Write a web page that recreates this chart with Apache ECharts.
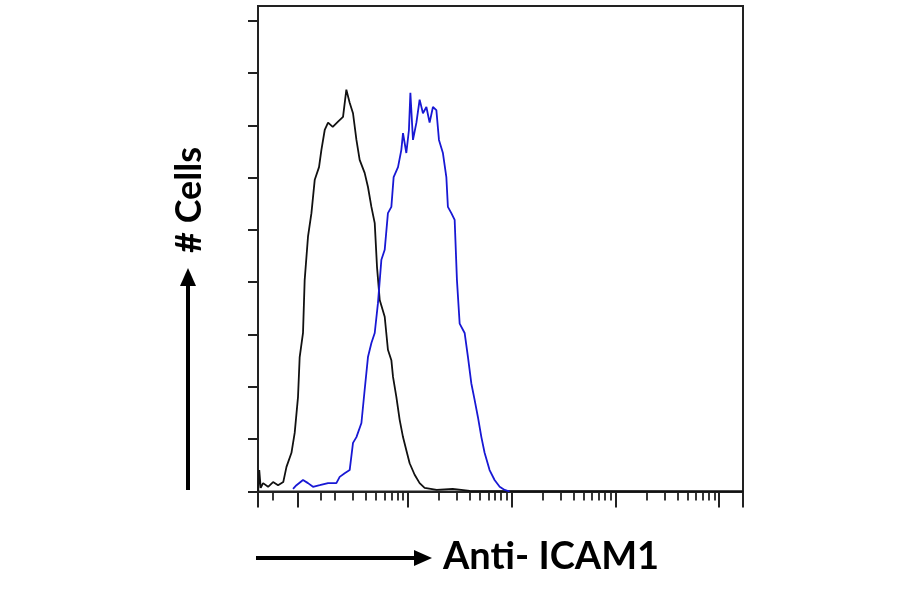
<!DOCTYPE html>
<html>
<head>
<meta charset="utf-8">
<script src="https://cdn.jsdelivr.net/npm/echarts@6/dist/echarts.min.js"></script>
<style>
    html, body { margin: 0; padding: 0; background: #fff; }
    #chart { width: 900px; height: 594px; }
</style>
</head>
<body>
<div id="chart"></div>
<script>
    // x in decades (log10 of fluorescence), y in cell counts
    var isotypeX = [0.565, 0.575, 0.589, 0.612, 0.660, 0.708, 0.756, 0.806, 0.837, 0.885, 0.916, 0.948, 0.964, 0.996,
        1.012, 1.044, 1.077, 1.109, 1.150, 1.173, 1.205, 1.237, 1.282, 1.333, 1.381, 1.413, 1.445, 1.477, 1.510,
        1.541, 1.589, 1.621, 1.654, 1.686, 1.708, 1.734, 1.782, 1.813, 1.846, 1.862, 1.894, 1.926, 1.958, 1.990,
        2.022, 2.070, 2.118, 2.166, 2.282, 2.436, 2.600, 5.229];
    var isotypeY = [0.1, 4.1, 0.7, 1.6, 0.9, 1.8, 1.2, 1.8, 4.7, 7.4, 11.2, 18.1, 25.7, 30.3,
        40.4, 48.7, 53.2, 59.6, 62.0, 65.3, 69.1, 70.5, 69.7, 70.7, 71.6, 76.8, 74.3, 72.3, 67.2,
        63.4, 60.9, 58.2, 54.4, 51.3, 42.9, 36.6, 33.4, 27.1, 25.1, 21.9, 18.1, 13.7, 10.4, 7.9,
        5.4, 3.2, 1.6, 0.7, 0.3, 0.5, 0.1, 0];

    var icamX = [0.900, 0.933, 0.996, 1.044, 1.092, 1.157, 1.237, 1.317, 1.349, 1.397, 1.445, 1.477, 1.510, 1.558,
        1.589, 1.621, 1.654, 1.686, 1.717, 1.750, 1.782, 1.813, 1.846, 1.868, 1.910, 1.942, 1.958, 1.990, 2.015,
        2.029, 2.054, 2.087, 2.118, 2.150, 2.183, 2.214, 2.246, 2.279, 2.304, 2.342, 2.375, 2.390, 2.423, 2.455,
        2.477, 2.503, 2.551, 2.583, 2.615, 2.647, 2.679, 2.712, 2.743, 2.791, 2.839, 2.888, 2.936, 2.984];
    var icamY = [0.5, 1.2, 2.2, 1.6, 0.9, 1.2, 1.6, 1.6, 2.8, 3.5, 4.1, 9.3, 10.4, 13.1,
        19.4, 25.7, 28.4, 30.3, 36.0, 44.3, 46.2, 53.2, 54.4, 60.1, 62.0, 65.3, 68.5, 64.7, 69.1,
        76.2, 67.2, 70.5, 74.9, 72.3, 73.5, 70.5, 73.5, 72.9, 67.2, 64.7, 60.1, 54.4, 53.2, 51.9,
        40.4, 32.1, 30.3, 25.7, 20.7, 17.5, 14.2, 10.4, 7.4, 4.1, 2.2, 0.9, 0.3, 0];

    var xMin = 0.563;
    var xMax = 5.229;
    var yMax = 92.8;
    var yTicks = [0, 10, 20, 30, 40, 50, 60, 70, 80, 90];
    var majorTicks = [0.563, 0.942, 2, 3, 4, 5, 5.229];
    var extraMinorTicks = [0.705, 1.163];

    var minorTicks = extraMinorTicks.slice();
    [1, 2, 3, 4].forEach(function (d) {
        for (var k = 2; k <= 9; k++) {
            minorTicks.push(d + Math.log10(k));
        }
    });

    function pairs(xs, ys) {
        return xs.map(function (x, i) { return [x, ys[i]]; });
    }

    var axisColor = '#222';
    var myChart = echarts.init(document.getElementById('chart'));
    myChart.setOption({
        animation: false,
        grid: {
            left: 258,
            top: 6,
            width: 485,
            height: 485.5,
            show: true,
            borderColor: axisColor,
            borderWidth: 2
        },
        xAxis: [
            {
                type: 'value',
                min: xMin,
                max: xMax,
                position: 'bottom',
                axisLine: { lineStyle: { color: axisColor, width: 2 } },
                axisTick: { customValues: minorTicks, length: 9, lineStyle: { color: axisColor, width: 1.8 } },
                axisLabel: { show: false },
                splitLine: { show: false }
            },
            {
                type: 'value',
                min: xMin,
                max: xMax,
                position: 'bottom',
                axisLine: { show: false },
                axisTick: { customValues: majorTicks, length: 16, lineStyle: { color: axisColor, width: 2 } },
                axisLabel: { show: false },
                splitLine: { show: false }
            }
        ],
        yAxis: {
            type: 'value',
            min: 0,
            max: yMax,
            interval: 10,
            axisLine: { show: true, lineStyle: { color: axisColor, width: 2 } },
            axisTick: { show: true, customValues: yTicks, length: 10, lineStyle: { color: axisColor, width: 2 } },
            axisLabel: { show: false },
            splitLine: { show: false }
        },
        series: [
            {
                name: 'Isotype',
                type: 'line',
                symbol: 'none',
                data: pairs(isotypeX, isotypeY),
                lineStyle: { color: '#111', width: 1.8 }
            },
            {
                name: 'Anti-ICAM1',
                type: 'line',
                symbol: 'none',
                data: pairs(icamX, icamY),
                lineStyle: { color: '#1818d4', width: 1.8 }
            }
        ],
        graphic: [
            // y arrow
            { type: 'line', shape: { x1: 188, y1: 490, x2: 188, y2: 284 }, style: { stroke: '#000', lineWidth: 4 } },
            { type: 'polygon', shape: { points: [[188, 268], [180, 286], [196, 286]] }, style: { fill: '#000' } },
            {
                type: 'text',
                x: 189,
                y: 200,
                rotation: Math.PI / 2,
                style: {
                    text: '# Cells',
                    font: 'bold 36px Lato',
                    fill: '#000',
                    align: 'center',
                    verticalAlign: 'middle'
                }
            },
            // x arrow
            { type: 'line', shape: { x1: 256, y1: 558, x2: 416, y2: 558 }, style: { stroke: '#000', lineWidth: 4 } },
            { type: 'polygon', shape: { points: [[432, 558], [414, 550], [414, 566]] }, style: { fill: '#000' } },
            {
                type: 'text',
                x: 443,
                y: 557,
                style: {
                    text: 'Anti- ICAM1',
                    font: 'bold 38px Lato',
                    fill: '#000',
                    align: 'left',
                    verticalAlign: 'middle'
                }
            }
        ]
    });
</script>
</body>
</html>
